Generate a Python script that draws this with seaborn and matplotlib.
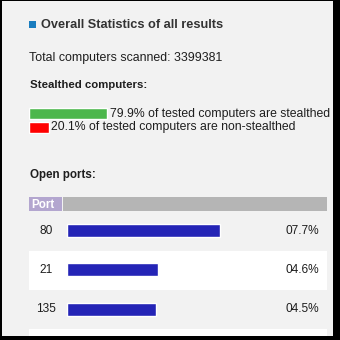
import matplotlib
matplotlib.use("Agg")
import matplotlib.pyplot as plt
from matplotlib.patches import Rectangle
import seaborn as sns
import pandas as pd

# ---- data ----
title = "Overall Statistics of all results"
total_scanned = 3399381
stealth_labels = ["stealthed", "non-stealthed"]
stealth_pct = [79.9, 20.1]
stealth_colors = ["#4cb74c", "#ff0000"]
ports = ["80", "21", "135"]
port_pct = [7.7, 4.6, 4.5]
port_pct_labels = ["07.7%", "04.6%", "04.5%"]

sns.set_theme(style="white")
plt.rcParams["font.family"] = ["Liberation Sans", "DejaVu Sans"]

TXT = "#1e1e1e"
BG = "#f2f2f2"

fig = plt.figure(figsize=(3.4, 3.4), dpi=100)
fig.patch.set_facecolor("black")

# page axes in pixel coordinates
page = fig.add_axes([0, 0, 1, 1])
page.set_xlim(0, 340)
page.set_ylim(340, 0)
page.axis("off")
page.add_patch(Rectangle((2, 1), 331, 335, color=BG, lw=0))

# title
page.add_patch(Rectangle((29, 21), 6.5, 6.5, color="#1a7dbf", lw=0))
page.text(41, 25, title, fontsize=9.2, fontweight="bold", color="#333333",
          va="center", ha="left")
page.text(29, 57.5, f"Total computers scanned: {total_scanned}", fontsize=8.9,
          color=TXT, va="center", ha="left")
page.text(30, 85, "Stealthed computers:", fontsize=8.2, fontweight="bold",
          color=TXT, va="center", ha="left")

# stealth bars (seaborn)
sax = fig.add_axes([29 / 340, 1 - 134 / 340, 300 / 340, 27 / 340])
sdf = pd.DataFrame({"label": stealth_labels, "pct": stealth_pct})
sns.barplot(data=sdf, x="pct", y="label", hue="label", palette=stealth_colors,
            legend=False, ax=sax, width=0.78, saturation=1)
sax.set_xlim(0, 300 / 0.977)
sax.set_ylim(1.5, -0.5)
sax.axis("off")
for i, (lbl, p) in enumerate(zip(stealth_labels, stealth_pct)):
    sax.text(p + 2.6 / 0.977, i, f"{p}% of tested computers are {lbl}",
             fontsize=8.8, color=TXT, va="center", ha="left")

page.text(30, 175, "Open ports:", fontsize=8.4, fontweight="bold",
          color=TXT, va="center", ha="left")

# header row
page.add_patch(Rectangle((29, 197), 33, 14, color="#b3a6cf", lw=0))
page.add_patch(Rectangle((63, 197), 264, 14, color="#b5b5b5", lw=0))
page.text(31, 204.5, "Port", fontsize=8.4, fontweight="bold", color="white",
          va="center", ha="left")

# row backgrounds
page.add_patch(Rectangle((29, 251), 298, 39, color="white", lw=0))
page.add_patch(Rectangle((29, 329), 298, 7, color="white", lw=0))

# port bars (seaborn)
row_h = 39.3
ax = fig.add_axes([29 / 340, 1 - (211 + 3 * row_h) / 340, 298 / 340, 3 * row_h / 340])
ax.patch.set_alpha(0)
pdf = pd.DataFrame({"port": ports, "pct": port_pct})
sns.barplot(data=pdf, x="pct", y="port", color="#2424b6", saturation=1,
            width=0.33, ax=ax)
px_per = 19.85
ax.set_xlim(-38 / px_per, 260 / px_per)
ax.set_ylim(2.5, -0.5)
ax.axis("off")
for i, (p, lab) in enumerate(zip(ports, port_pct_labels)):
    ax.text(0.057, i, p, transform=ax.get_yaxis_transform(), fontsize=8.6,
            color=TXT, va="center", ha="center")
    ax.text(0.975, i, lab, transform=ax.get_yaxis_transform(), fontsize=8.6,
            color=TXT, va="center", ha="right")

fig.savefig("out.png", dpi=100, facecolor=fig.get_facecolor())
